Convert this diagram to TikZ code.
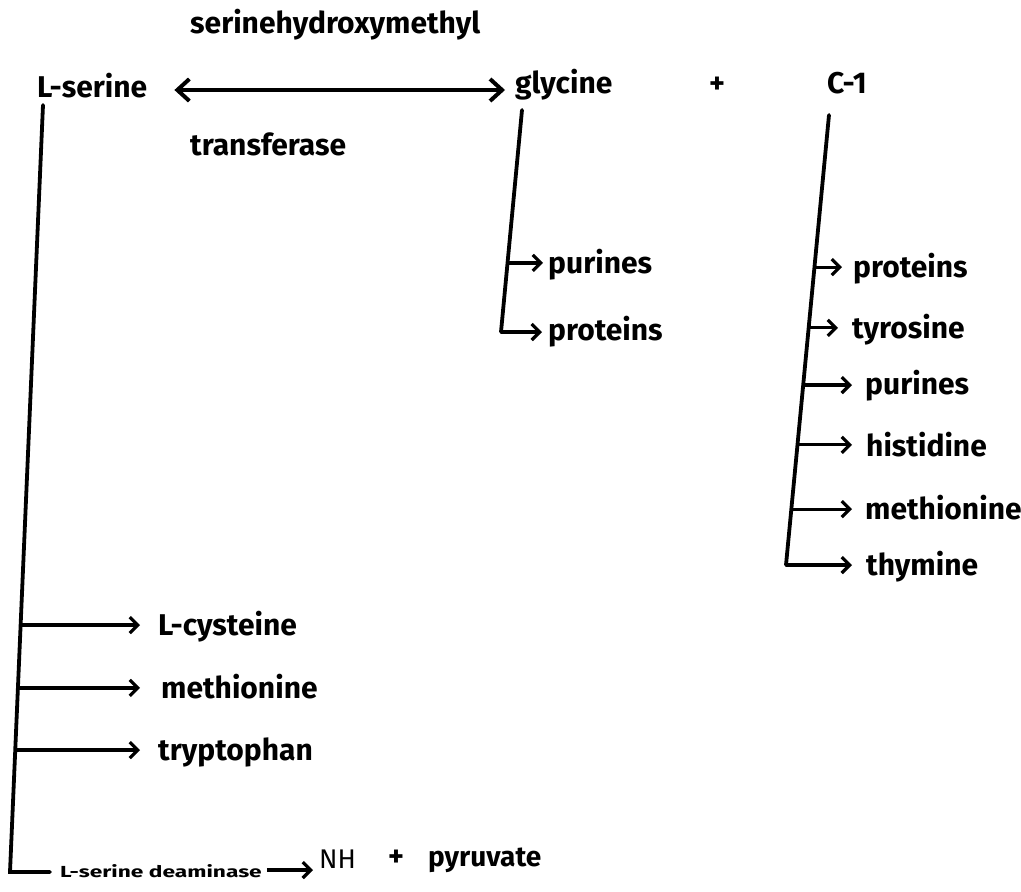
\documentclass[tikz,border=0pt]{standalone}
\usepackage{fontspec}
\setmainfont{Fira Sans}
\usetikzlibrary{arrows.meta,calc}
\begin{document}
\begin{tikzpicture}[x=1pt,y=-1pt,
  lbl/.style={font=\fontsize{30}{36}\selectfont\bfseries, inner sep=0pt, anchor=base west},
  stem/.style={line width=3.8pt, line cap=round, line join=miter},
  branch/.style={line width=3.2pt, -{Straight Barb[length=8pt,width=16pt,line width=3.2pt]}},
  dbl/.style={line width=3.6pt, {Straight Barb[length=12pt,width=22pt,line width=4pt]}-{Straight Barb[length=12pt,width=22pt,line width=4pt]}}]
\path[use as bounding box] (0,0) rectangle (1021,892);

% top row
\node[lbl] (ls)   at (37,97)  {L-serine};
\node[lbl] (gly)  at (515,93) {glycine};
\node[lbl] (plus) at (709,93) {+};
\node[lbl] (c1)   at (827,93) {C-1};
\node[lbl] (shm)  at (190,33) {serinehydroxymethyl};
\node[lbl] (tra)  at (190,155) {transferase};
\draw[dbl] ([shift={(27,-7)}]ls.base east) -- ([shift={(-10,-3)}]gly.base west);

% L-serine stem
\coordinate (lsT) at (43,105);
\coordinate (lsB) at (10,872);
\coordinate (b1) at ($(lsT)!0.678!(lsB)$);
\coordinate (b2) at ($(lsT)!0.760!(lsB)$);
\coordinate (b3) at ($(lsT)!0.841!(lsB)$);
\node[lbl] (cys) at (158,635) {L-cysteine};
\node[lbl] (met1) at (161,698) {methionine};
\node[lbl] (trp) at (158,760) {tryptophan};
\node[inner sep=0pt, anchor=base west, font=\fontsize{16}{18}\selectfont\bfseries] (dea) at (60,877) {\scalebox{1.42}[1]{L-serine deaminase}};
\node[inner sep=0pt, anchor=base west, font=\fontsize{27}{32}\selectfont\mdseries] (nh) at (319,868) {NH};
\node[lbl] (plus2) at (388,866) {+};
\node[inner sep=0pt, anchor=base west, font=\fontsize{28}{32}\selectfont\bfseries] (pyr) at (428,866) {pyruvate};
\draw[stem] (lsT) -- (lsB) -- ([xshift=-10]lsB -| dea.west);
\draw[branch, shorten >=18pt] (b1) -- (b1 -| cys.west);
\draw[branch, shorten >=21pt] (b2) -- (b2 -| met1.west);
\draw[branch, shorten >=18pt] (b3) -- (b3 -| trp.west);
\draw[branch] ([xshift=5]dea.east |- 0,870) -- ([xshift=-6]nh.west |- 0,870);

% glycine stem
\coordinate (gT) at (522,110);
\coordinate (gB) at (501,332);
\coordinate (g1) at ($(gT)!0.689!(gB)$);
\node[lbl] (pur1) at (548,273) {purines};
\node[lbl] (pro1) at (548,340) {proteins};
\draw[stem] (gT) -- (gB);
\draw[branch, shorten >=5pt] (g1) -- (g1 -| pur1.west);
\draw[branch, shorten >=6pt] (gB) -- (gB -| pro1.west);

% C-1 stem
\coordinate (cT) at (829,115);
\coordinate (cB) at (786,565);
\coordinate (c1b) at ($(cT)!0.338!(cB)$);
\coordinate (c2b) at ($(cT)!0.473!(cB)$);
\coordinate (c3b) at ($(cT)!0.600!(cB)$);
\coordinate (c4b) at ($(cT)!0.733!(cB)$);
\coordinate (c5b) at ($(cT)!0.876!(cB)$);
\node[lbl] (pro2) at (853,277) {proteins};
\node[lbl] (tyr)  at (852,338) {tyrosine};
\node[lbl] (pur2) at (865,394) {purines};
\node[lbl] (his)  at (866,456) {histidine};
\node[lbl] (met2) at (865,519) {methionine};
\node[lbl] (thy)  at (866,575) {thymine};
\draw[stem] (cT) -- (cB);
\draw[branch, shorten >=11pt] (c1b) -- (c1b -| pro2.west);
\draw[branch, shorten >=14pt] (c2b) -- (c2b -| tyr.west);
\draw[branch, shorten >=13pt] (c3b) -- (c3b -| pur2.west);
\draw[branch, shorten >=14pt] (c4b) -- (c4b -| his.west);
\draw[branch, shorten >=13pt] (c5b) -- (c5b -| met2.west);
\draw[branch, shorten >=14pt] (cB) -- (cB -| thy.west);
\end{tikzpicture}
\end{document}
